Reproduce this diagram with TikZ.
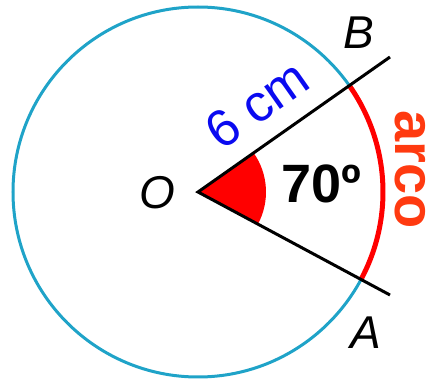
\documentclass[tikz,border=0pt]{standalone}
\usepackage{fontspec}
\setmainfont{Liberation Sans}
\usetikzlibrary{calc}
\definecolor{circ}{HTML}{1FA3C8}
\definecolor{arcred}{HTML}{FF0000}
\definecolor{arcolbl}{HTML}{FF3A10}
\definecolor{cmblue}{HTML}{0A0AF0}
\begin{document}
\begin{tikzpicture}[x=1pt,y=-1pt,
  lbl/.style={font=\fontsize{46}{46}\selectfont\itshape, inner sep=0pt},
  ray/.style={line width=3pt, black}]
\useasboundingbox (0,0) rectangle (432,382);
\coordinate (O) at (198,192);
\coordinate (Bend) at (390,57);
\coordinate (Aend) at (390,295);
% red sector
\fill[arcred] (O) -- ++(-35.1:68) arc[start angle=-35.1, end angle=28.2, radius=68] -- cycle;
% circle
\draw[circ, line width=3pt] (O) circle[radius=185];
% red arc
\draw[arcred, line width=5pt] ($(O)+(-35.1:185)$) arc[start angle=-35.1, end angle=28.2, radius=185];
% rays
\draw[ray] (Bend) -- (O) -- (Aend);
\node[lbl] (lO) at (157,193) {O};
\node[lbl] (lB) at (359,33) {B};
\node[lbl] (lA) at (366,333) {A};
\node[font=\fontsize{52}{52}\selectfont, text=cmblue, rotate=35.1, inner sep=0pt] (cm) at (257,104) {6 cm};
\node[font=\fontsize{54}{54}\selectfont\bfseries, inner sep=0pt] (ang) at (321,184) {70º};
\node[font=\fontsize{56}{56}\selectfont\bfseries, text=arcolbl, rotate=-90, inner sep=0pt] (arco) at (410,170) {arco};
\end{tikzpicture}
\end{document}
